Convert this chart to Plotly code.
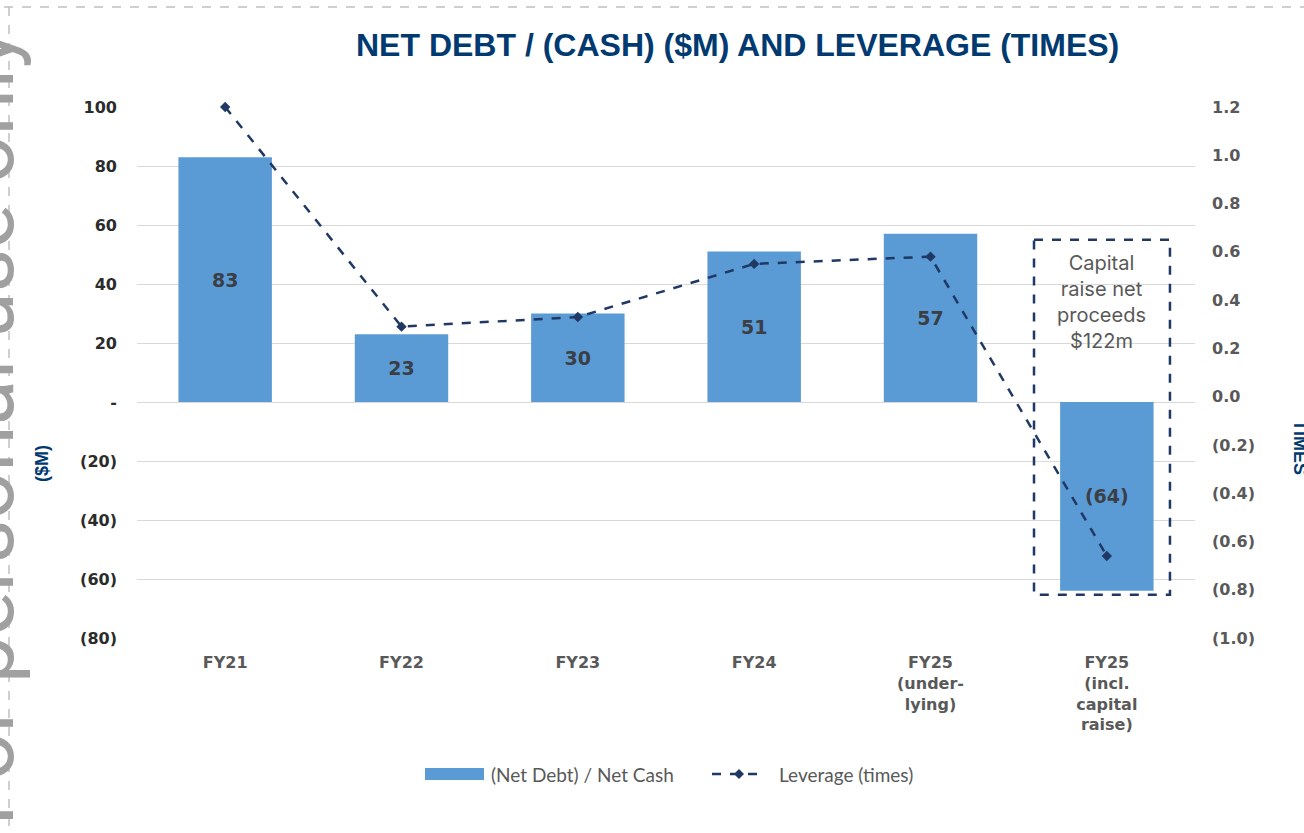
import plotly.graph_objects as go

categories = ["FY21", "FY22", "FY23", "FY24", "FY25u", "FY25i"]
tick_labels = ["FY21", "FY22", "FY23", "FY24", "FY25<br>(under-<br>lying)", "FY25<br>(incl.<br>capital<br>raise)"]
net_cash = [83, 23, 30, 51, 57, -64]
net_cash_labels = ["83", "23", "30", "51", "57", "(64)"]
leverage = [1.2, 0.29, 0.33, 0.55, 0.58, -0.66]

left_tickvals = [100, 80, 60, 40, 20, 0, -20, -40, -60, -80]
left_ticktext = ["100", "80", "60", "40", "20", "-", "(20)", "(40)", "(60)", "(80)"]
right_tickvals = [1.2, 1.0, 0.8, 0.6, 0.4, 0.2, 0.0, -0.2, -0.4, -0.6, -0.8, -1.0]
right_ticktext = ["1.2", "1.0", "0.8", "0.6", "0.4", "0.2", "0.0", "(0.2)", "(0.4)", "(0.6)", "(0.8)", "(1.0)"]

NAVY = "#1F3864"
TITLE_BLUE = "#003A70"
BAR = "#5B9BD5"
TICK_DARK = "#2B2B2B"
TICK_GREY = "#595959"

fig = go.Figure()
fig.add_trace(go.Bar(
    x=categories, y=net_cash, name="(Net Debt) / Net Cash",
    marker=dict(color=BAR, line=dict(width=0)),
    text=net_cash_labels, textposition="inside", insidetextanchor="middle",
    textangle=0, constraintext="none",
    textfont=dict(family="DejaVu Sans", size=19, color="#3A3F47", weight="bold"),
    showlegend=False,
))
fig.add_trace(go.Scatter(
    x=categories, y=leverage, name="Leverage (times)", yaxis="y2",
    mode="lines+markers", cliponaxis=False,
    line=dict(color=NAVY, width=2.5, dash="dash"),
    marker=dict(symbol="diamond", size=8, color=NAVY),
    showlegend=False,
))

L, R, T, B = 137, 109, 107, 195
W, H = 1304, 833
pw, ph = W - L - R, H - T - B

def px(x):
    return (x - L) / pw

def py(y):
    return (H - B - y) / ph

fig.update_layout(
    width=W, height=H,
    margin=dict(l=L, r=R, t=T, b=B, autoexpand=False),
    paper_bgcolor="white", plot_bgcolor="white",
    bargap=0.47,
    showlegend=False,
    xaxis=dict(tickmode="array", tickvals=categories, ticktext=tick_labels,
               tickfont=dict(family="DejaVu Sans", size=16, color=TICK_GREY, weight="bold"),
               showgrid=False, showline=False, ticks="", ticklabelstandoff=13),
    yaxis=dict(range=[-80, 100], tickvals=left_tickvals, ticktext=left_ticktext,
               tickfont=dict(family="DejaVu Sans", size=16, color=TICK_DARK, weight="bold"),
               showgrid=True, gridcolor="#D9D9D9", gridwidth=1, zeroline=False,
               ticks="", ticklabelstandoff=19),
    yaxis2=dict(range=[-1.0, 1.2], overlaying="y", side="right",
                tickvals=right_tickvals, ticktext=right_ticktext,
                tickfont=dict(family="DejaVu Sans", size=16, color=TICK_GREY, weight="bold"),
                showgrid=False, zeroline=False, ticks="", ticklabelstandoff=16),
)

annotations = [
    dict(text="<b>NET DEBT / (CASH) ($M) AND LEVERAGE (TIMES)</b>", xref="paper", yref="paper",
         x=px(737), y=py(45), xanchor="center", yanchor="middle", showarrow=False,
         font=dict(family="Liberation Sans", size=32, color=TITLE_BLUE)),
    dict(text="<b>($M)</b>", xref="paper", yref="paper", x=px(42), y=py(464),
         xanchor="center", yanchor="middle", textangle=-90, showarrow=False,
         font=dict(family="Liberation Sans", size=18, color=TITLE_BLUE)),
    dict(text="<b>TIMES</b>", xref="paper", yref="paper", x=px(1300), y=py(447),
         xanchor="center", yanchor="middle", textangle=90, showarrow=False,
         font=dict(family="Liberation Sans", size=18, color=TITLE_BLUE)),
    dict(text="Capital<br>raise net<br>proceeds<br>$122m", xref="x", yref="y",
         x=4.97, y=52, xanchor="center", yanchor="top", showarrow=False,
         font=dict(family="Inter", size=20, color="#595959")),
    dict(text="For personal use only", xref="paper", yref="paper", x=px(-16), y=py(428),
         xanchor="center", yanchor="middle", textangle=-90, showarrow=False,
         font=dict(family="Roboto", size=84, color="#A0A0A0")),
    # legend texts
    dict(text="(Net Debt) / Net Cash", xref="paper", yref="paper", x=px(489), y=py(774),
         xanchor="left", yanchor="middle", showarrow=False,
         font=dict(family="Lato", size=19, color="#595959")),
    dict(text="Leverage (times)", xref="paper", yref="paper", x=px(777), y=py(774),
         xanchor="left", yanchor="middle", showarrow=False,
         font=dict(family="Lato", size=19, color="#595959")),
]
fig.update_layout(annotations=annotations)

dx, dy = 5 / pw, 5 / ph
shapes = [
    dict(type="rect", xref="x", yref="y", x0=4.587, x1=5.358, y0=55, y1=-65.3,
         line=dict(color=NAVY, width=2.5, dash="dash"), fillcolor="rgba(0,0,0,0)"),
    dict(type="line", xref="paper", yref="paper", x0=px(4), x1=px(1304), y0=py(7), y1=py(7),
         line=dict(color="#C0C0C0", width=1.5, dash="dash")),
    dict(type="line", xref="paper", yref="paper", x0=px(9), x1=px(9), y0=py(7), y1=py(833),
         line=dict(color="#C0C0C0", width=1.5, dash="dash")),
    # legend symbols
    dict(type="rect", xref="paper", yref="paper", x0=px(425), x1=px(484), y0=py(768), y1=py(780),
         line=dict(width=0), fillcolor=BAR),
    dict(type="line", xref="paper", yref="paper", x0=px(712), x1=px(764), y0=py(774), y1=py(774),
         line=dict(color=NAVY, width=2.5, dash="dash")),
    dict(type="path", xref="paper", yref="paper",
         path=f"M {px(739)-dx},{py(774)} L {px(739)},{py(774)+dy} L {px(739)+dx},{py(774)} L {px(739)},{py(774)-dy} Z",
         line=dict(width=0), fillcolor=NAVY),
]
fig.update_layout(shapes=shapes)

fig.write_html("out.html", config={"displayModeBar": False},
               post_script="document.body.style.margin='0px';")
